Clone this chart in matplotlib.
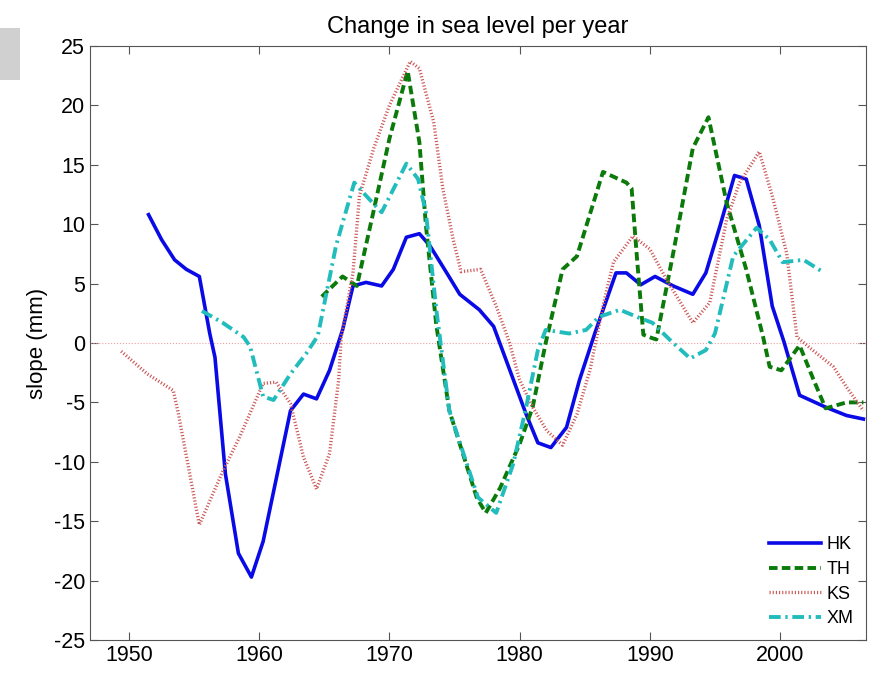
import matplotlib
matplotlib.use("Agg")
import matplotlib.pyplot as plt
from matplotlib.patches import Rectangle

plt.rcParams['font.family'] = ['Liberation Sans', 'DejaVu Sans']
plt.rcParams['axes.unicode_minus'] = False

# values
hk_year = [1951.5, 1952.5, 1953.5, 1954.4, 1955.4, 1956.2, 1956.6, 1957.4, 1958.4, 1959.4,
           1960.3, 1962.4, 1963.4, 1964.4, 1965.4, 1966.4, 1967.2, 1968.2, 1969.4, 1970.3,
           1971.3, 1972.3, 1973.1, 1974.4, 1975.4, 1976.9, 1978.0, 1980.5, 1981.4, 1982.4,
           1983.6, 1984.6, 1985.8, 1987.4, 1988.2, 1989.3, 1990.4, 1991.8, 1993.3, 1994.3,
           1995.4, 1996.5, 1997.4, 1998.4, 1999.4, 2000.3, 2001.5, 2003.5, 2005.1, 2006.4]
hk_val = [10.8, 8.7, 7.0, 6.2, 5.6, 0.8, -1.2, -11.0, -17.7, -19.7,
          -16.7, -5.7, -4.3, -4.7, -2.3, 1.1, 4.8, 5.1, 4.8, 6.2,
          8.9, 9.2, 8.2, 5.9, 4.1, 2.8, 1.4, -6.0, -8.4, -8.8,
          -7.1, -3.1, 0.9, 5.9, 5.9, 4.9, 5.6, 4.8, 4.1, 5.9,
          9.9, 14.1, 13.8, 9.9, 3.1, 0.1, -4.4, -5.4, -6.1, -6.4]

th_year = [1964.8, 1966.4, 1967.5, 1968.7, 1970.0, 1971.4, 1972.3, 1972.8, 1973.6, 1974.6,
           1976.7, 1977.4, 1978.5, 1980.0, 1981.0, 1982.0, 1983.3, 1984.4, 1986.4, 1988.2,
           1988.6, 1989.0, 1989.5, 1990.2, 1990.5, 1991.8, 1993.3, 1994.5, 1995.9, 1997.4,
           1998.7, 1999.2, 2000.1, 2001.5, 2002.5, 2003.5, 2005.1, 2006.4]
th_val = [3.9, 5.6, 4.8, 10.7, 17.2, 22.9, 16.9, 9.9, 1.5, -5.7,
          -13.0, -14.3, -12.2, -8.5, -5.4, 0.0, 6.2, 7.3, 14.4, 13.5,
          13.0, 7.3, 0.7, 0.4, 0.3, 7.6, 16.4, 19.0, 11.8, 6.2,
          0.5, -2.0, -2.3, -0.2, -2.9, -5.5, -5.0, -5.0]

ks_year = [1949.4, 1951.4, 1953.4, 1953.8, 1955.4, 1957.2, 1958.5, 1960.3, 1961.3, 1962.4,
           1963.4, 1964.4, 1965.4, 1966.1, 1966.3, 1967.2, 1967.7, 1968.8, 1970.0, 1971.6,
           1972.3, 1973.4, 1974.1, 1974.9, 1975.5, 1977.0, 1978.2, 1979.2, 1980.0, 1981.0,
           1982.1, 1983.3, 1984.4, 1985.4, 1986.4, 1987.2, 1988.7, 1990.0, 1991.3, 1993.3,
           1994.6, 1995.9, 1996.9, 1998.4, 1999.4, 2000.5, 2001.3, 2002.5, 2004.1, 2005.1,
           2006.4]
ks_val = [-0.7, -2.6, -4.0, -6.0, -15.3, -10.8, -7.9, -3.4, -3.3, -5.1,
          -9.6, -12.3, -9.3, -3.1, 0.5, 5.9, 12.4, 16.4, 20.0, 23.7,
          23.1, 18.6, 13.0, 8.7, 6.0, 6.2, 3.1, 0.1, -3.1, -5.4,
          -7.4, -8.6, -6.0, -2.3, 3.1, 6.8, 9.0, 7.9, 5.3, 1.7,
          3.4, 10.4, 13.5, 16.1, 12.4, 7.6, 0.5, -0.6, -2.0, -3.7,
          -5.7]

xm_year = [1955.6, 1957.2, 1958.8, 1959.3, 1960.3, 1961.1, 1962.4, 1963.6, 1964.5, 1965.9,
           1967.3, 1968.2, 1969.4, 1971.3, 1972.2, 1972.8, 1973.6, 1974.6, 1976.8, 1978.2,
           1979.5, 1980.5, 1981.4, 1982.0, 1983.8, 1985.1, 1986.1, 1987.7, 1989.0, 1990.2,
           1991.6, 1993.1, 1994.3, 1995.0, 1996.4, 1998.2, 1999.2, 2000.2, 2001.8, 2003.4]
xm_val = [2.7, 1.7, 0.5, -0.3, -4.5, -4.8, -2.6, -0.9, 0.6, 8.2,
          13.5, 12.4, 11.0, 15.1, 13.8, 11.0, 2.8, -5.7, -13.0, -14.3,
          -10.2, -5.4, -0.6, 1.1, 0.8, 1.1, 2.2, 2.8, 2.2, 1.7,
          0.2, -1.3, -0.6, 0.8, 7.3, 9.7, 8.7, 6.8, 7.0, 5.9]

fig = plt.figure(figsize=(8.7, 6.74), dpi=100)
ax = fig.add_axes([0.1034, 0.0504, 0.892, 0.8814])

# grey box in the top-left corner of the picture
fig.patches.append(Rectangle((0, 0.882), 0.023, 0.077, transform=fig.transFigure,
                             facecolor='#d0d0d0', edgecolor='none'))

ax.axhline(0, color='#f0a0a0', lw=0.8, ls=':')

ax.plot(hk_year, hk_val, color='#0a0ae6', lw=2.6, label='HK')
ax.plot(th_year, th_val, color='#0b7a0b', lw=2.8, ls=(0, (2.2, 1.1)), label='TH')
ax.plot(ks_year, ks_val, color='#cc5a5a', lw=2.4, ls=(0, (0.35, 0.6)), label='KS')
ax.plot(xm_year, xm_val, color='#22bcbc', lw=2.8, ls=(0, (3, 1.2, 0.6, 1.2)), label='XM')

ax.set_xlim(1947.0, 2006.6)
ax.set_ylim(-25, 25)
ax.set_xticks([1950, 1960, 1970, 1980, 1990, 2000])
ax.set_yticks(range(-25, 30, 5))
ax.tick_params(direction='in', top=True, right=True, length=6, labelsize=15.5, color='#555555')
for s in ax.spines.values():
    s.set_color('#555555')

ax.set_title('Change in sea level per year', fontsize=17, pad=9)
ax.set_ylabel('slope (mm)', fontsize=16)

ax.legend(loc='lower right', frameon=False, fontsize=13, handlelength=2.9,
          handletextpad=0.3, labelspacing=0.43, borderaxespad=0.3)

fig.savefig('out.png', dpi=100)
